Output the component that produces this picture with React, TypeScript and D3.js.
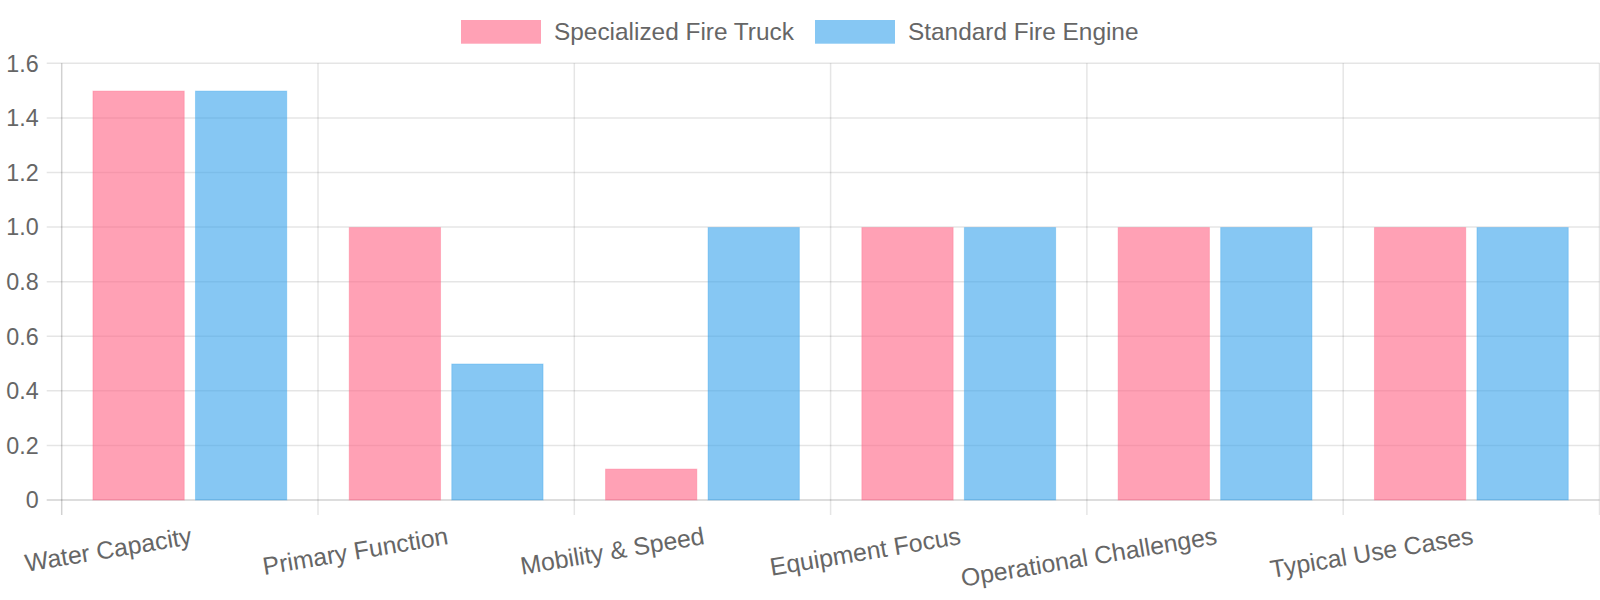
import React, {useEffect, useRef} from "react";
import * as d3 from "d3";

const categories = [
    "Water Capacity",
    "Primary Function",
    "Mobility & Speed",
    "Equipment Focus",
    "Operational Challenges",
    "Typical Use Cases"
];
const seriesNames = ["Specialized Fire Truck", "Standard Fire Engine"];
const specializedValues = [1.5, 1, 0.115, 1, 1, 1];
const standardValues = [1.5, 0.5, 1, 1, 1, 1];
const yTicks = [0, 0.2, 0.4, 0.6, 0.8, 1.0, 1.2, 1.4, 1.6];

const fills = ["rgba(255,99,132,0.6)", "rgba(54,162,235,0.6)"];
const borders = ["rgba(255,99,132,0.35)", "rgba(54,162,235,0.35)"];

const width = 1600;
const height = 600;
const plot = {left: 61.7, right: 1599.5, top: 63.3, bottom: 500};
const font = "'Liberation Sans', Arial, sans-serif";

function App(): JSX.Element {
    const svgRef = useRef<SVGSVGElement>(null);

    useEffect(() => {
        document.body.style.margin = "0";
        if (!svgRef.current) return;
        const svg = d3.select(svgRef.current);
        svg.selectAll("*").remove();

        const x = d3.scaleBand<string>()
            .domain(categories)
            .range([plot.left, plot.right]);
        const xInner = d3.scaleBand<string>()
            .domain(seriesNames)
            .range([0.1 * x.bandwidth(), 0.9 * x.bandwidth()])
            .paddingInner(0.1)
            .paddingOuter(0.05);
        const y = d3.scaleLinear().domain([0, 1.6]).range([plot.bottom, plot.top]);

        // horizontal grid
        svg.append("g")
            .selectAll("line")
            .data(yTicks)
            .enter()
            .append("line")
            .attr("x1", plot.left - 15)
            .attr("x2", plot.right)
            .attr("y1", d => y(d))
            .attr("y2", d => y(d))
            .attr("stroke", d => d === 0 ? "rgba(0,0,0,0.18)" : "rgba(0,0,0,0.1)")
            .attr("stroke-width", 1.5);

        // vertical grid at category edges
        const edges = categories.map(c => x(c) as number).concat([plot.right]);
        svg.append("g")
            .selectAll("line")
            .data(edges)
            .enter()
            .append("line")
            .attr("x1", d => d)
            .attr("x2", d => d)
            .attr("y1", plot.top)
            .attr("y2", plot.bottom + 15)
            .attr("stroke", (d, i) => i === 0 ? "rgba(0,0,0,0.18)" : "rgba(0,0,0,0.1)")
            .attr("stroke-width", 1.5);

        // bars
        const seriesList = [specializedValues, standardValues];
        seriesList.forEach((values, si) => {
            svg.append("g")
                .selectAll("rect")
                .data(values)
                .enter()
                .append("rect")
                .attr("x", (d, i) => (x(categories[i]) as number) + (xInner(seriesNames[si]) as number) + 0.5)
                .attr("y", d => y(d) + 0.5)
                .attr("width", xInner.bandwidth() - 1)
                .attr("height", d => y(0) - y(d) - 0.5)
                .attr("fill", fills[si])
                .attr("stroke", borders[si])
                .attr("stroke-width", 1);
        });

        // y tick labels
        svg.append("g")
            .selectAll("text")
            .data(yTicks)
            .enter()
            .append("text")
            .attr("x", plot.left - 23)
            .attr("y", d => y(d))
            .attr("dy", "0.36em")
            .attr("text-anchor", "end")
            .attr("font-family", font)
            .attr("font-size", 23.3)
            .attr("fill", "#666")
            .text(d => d === 0 ? "0" : d.toFixed(1));

        // x tick labels, rotated
        svg.append("g")
            .selectAll("text")
            .data(categories)
            .enter()
            .append("text")
            .attr("transform", d => `translate(${(x(d) as number) + x.bandwidth() / 2 + 3}, 544) rotate(-9.5)`)
            .attr("text-anchor", "end")
            .attr("font-family", font)
            .attr("font-size", 24.8)
            .attr("fill", "#666")
            .text(d => d);

        // legend
        const legendItems = [
            {box: 461, text: 554},
            {box: 815, text: 908}
        ];
        const legend = svg.append("g");
        seriesNames.forEach((name, i) => {
            legend.append("rect")
                .attr("x", legendItems[i].box)
                .attr("y", 20)
                .attr("width", 80)
                .attr("height", 23.7)
                .attr("fill", fills[i]);
            legend.append("text")
                .attr("x", legendItems[i].text)
                .attr("y", 39.5)
                .attr("font-family", font)
                .attr("font-size", 24.4)
                .attr("fill", "#666")
                .text(name);
        });
    }, []);

    return (
        <svg
            ref={svgRef}
            width={width}
            height={height}
            style={{display: "block", background: "#fff"}}
        />
    );
}

export default App;
